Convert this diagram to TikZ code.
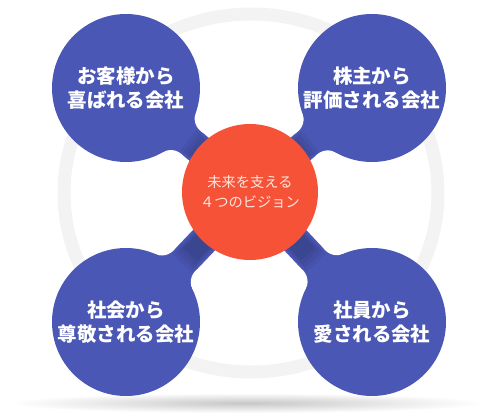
\documentclass[tikz,border=0pt]{standalone}
\usepackage{fontspec}
\newfontfamily\jp{Noto Sans CJK JP}
\definecolor{lobe}{RGB}{74,87,181}
\definecolor{core}{RGB}{246,82,56}
\definecolor{coretext}{RGB}{253,230,222}
\definecolor{ringgray}{RGB}{243,243,243}
\pgfdeclarelayer{bg}
\pgfsetlayers{bg,main}

\begin{document}
\begin{tikzpicture}[x=0.75pt,y=0.75pt,
  lobe/.style={circle,fill=lobe,minimum size=111pt,inner sep=0pt,text=white,align=center,
    font=\jp\bfseries\fontsize{14.6}{18}\selectfont},
  core/.style={circle,fill=core,minimum size=102pt,inner sep=0pt,text=coretext,align=center,
    font=\jp\fontsize{10.7}{15}\selectfont},
  neck/.style={line width=22.5pt,draw=lobe}]
\useasboundingbox (0,0) rectangle (483,412);
\node[core] (vision) at (250,220) {未来を支える\\４つのビジョン};
\node[lobe] (customer) at (126,324) {お客様から\\喜ばれる会社};
\node[lobe] (holder) at (372,324) {株主から\\評価される会社};
\node[lobe] (society) at (126,90) {社会から\\尊敬される会社};
\node[lobe] (staff) at (372,90) {社員から\\愛される会社};
\begin{pgfonlayer}{bg}
  % floor shadow and ring
  \shade[inner color=black!22,outer color=white] (246,9) ellipse (238 and 10);
  \draw[ringgray,line width=9.75pt] (251,219) ellipse (187 and 179);
  % necks
  \foreach \n/\a in {customer/-39.99,holder/-139.55,society/46.35,staff/133.17}{
    \draw[neck,shorten <=40pt] (\n.center) -- (vision.center);
    \foreach \s/\d/\w in {61/95/20,64/90/18,67/85/16,70/80/14}
      \draw[neck,line width=\w pt,draw=lobe!\d!black,shorten <=\s pt] (\n.center) -- (vision.center);
    \begin{scope}[shift={(\n.center)},rotate=\a]
      \fill[lobe] (60,8) -- (69.47,25.49) -- (84.49,31) -- (84.49,15) -- cycle;
      \fill[lobe] (60,-8) -- (69.47,-25.49) -- (84.49,-31) -- (84.49,-15) -- cycle;
      \fill[white] (84.49,31) circle[radius=16];
      \fill[white] (84.49,-31) circle[radius=16];
    \end{scope}
  }
\end{pgfonlayer}
\end{tikzpicture}
\end{document}
